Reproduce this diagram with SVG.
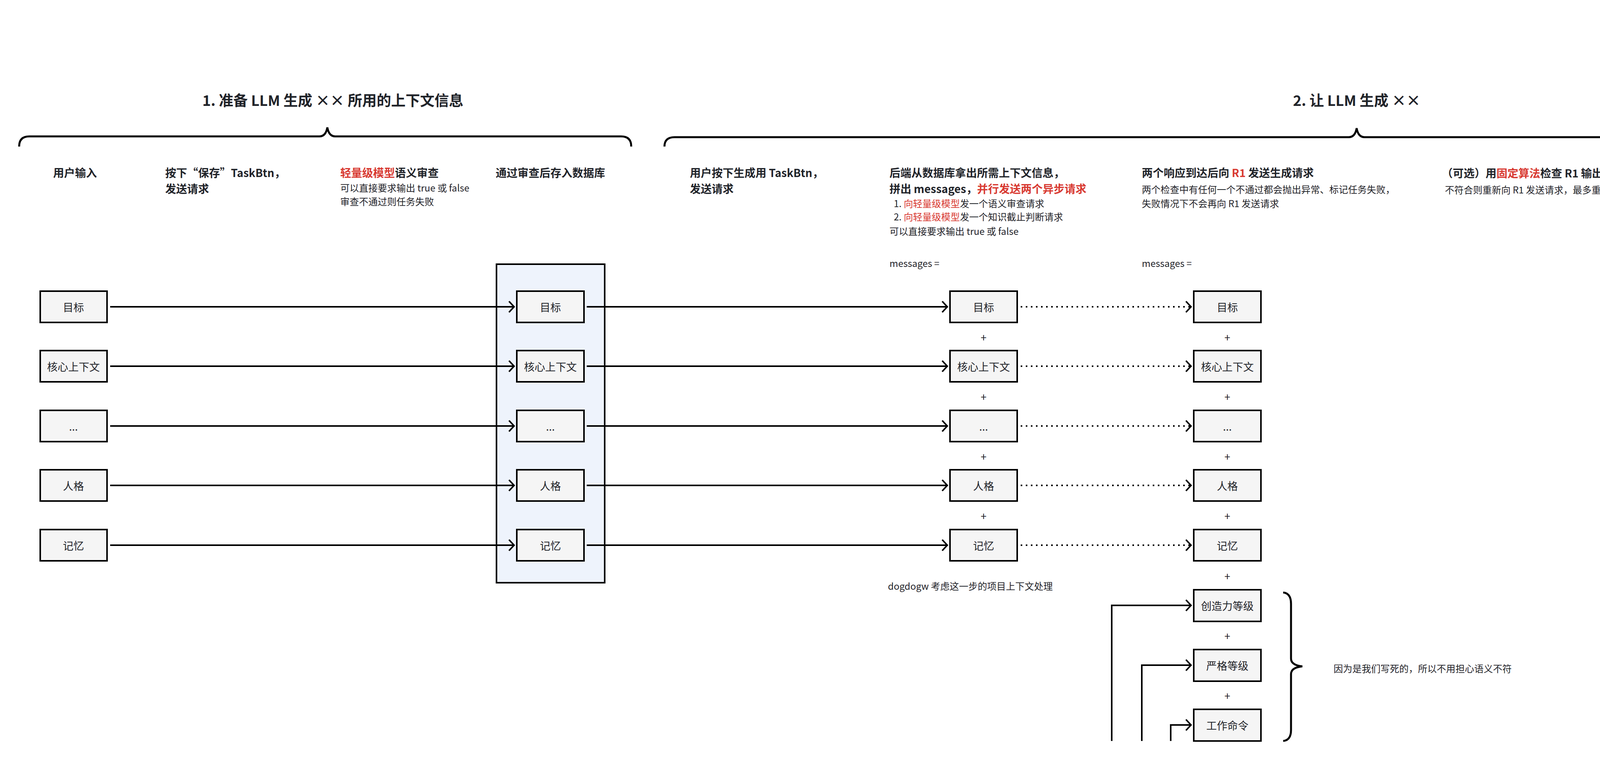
<svg xmlns="http://www.w3.org/2000/svg" width="5268" height="1960" viewBox="0 0 5268 1960">
<style>
text{font-family:"Noto Sans CJK SC","Noto Sans",sans-serif;fill:#1f2329;dominant-baseline:central}
.t{font-size:37px;font-weight:600}
.h{font-size:28px;font-weight:700}
.s{font-size:24px}
.n{font-size:27px;text-anchor:middle}
.r{fill:#d83931}
.box{fill:#f5f5f5;stroke:#000;stroke-width:4}
.ln{fill:none;stroke:#000;stroke-width:4}
.dot{fill:none;stroke:#000;stroke-width:4;stroke-dasharray:4 9}
.br{fill:none;stroke:#000;stroke-width:5}
</style>
<defs>
<marker id="a" markerUnits="userSpaceOnUse" markerWidth="20" markerHeight="34" refX="16" refY="16" orient="auto">
<path d="M3,2 L16,16 L3,30" fill="none" stroke="#000" stroke-width="4"/>
</marker>
</defs>

<g id="titles">
<text class="t" x="518" y="255">1. 准备 LLM 生成 ×× 所用的上下文信息</text>
<text class="t" x="3310" y="255">2. 让 LLM 生成 ××</text>
</g>
<g id="braces">
<path class="br" d="M49,375 Q49,349 75,349 L818,349 Q834,349 838,326 Q842,349 858,349 L1590,349 Q1616,349 1616,375"/>
<path class="br" d="M1701,375 Q1701,351 1727,351 L3453,351 Q3469,351 3473,328 Q3477,351 3493,351 L5193,351 Q5219,351 5219,375"/>
<path class="br" d="M3285,1516 Q3305,1518 3305,1545 L3305,1685 Q3305,1702 3334,1705 Q3305,1708 3305,1725 L3305,1868 Q3305,1894 3285,1896"/>
</g>

<g id="headers">
<text class="h" x="136" y="441">用户输入</text>
<text class="h" x="423" y="441">按下“保存”TaskBtn，</text>
<text class="h" x="423" y="482">发送请求</text>
<text class="h" x="871" y="441"><tspan class="r">轻量级模型</tspan>语义审查</text>
<text class="s" x="871" y="479">可以直接要求输出 true 或 false</text>
<text class="s" x="871" y="514">审查不通过则任务失败</text>
<text class="h" x="1269" y="441">通过审查后存入数据库</text>
<text class="h" x="1766" y="441">用户按下生成用 TaskBtn，</text>
<text class="h" x="1766" y="482">发送请求</text>
<text class="h" x="2277" y="441">后端从数据库拿出所需上下文信息，</text>
<text class="h" x="2277" y="482">拼出 messages，<tspan class="r">并行发送两个异步请求</tspan></text>
<text class="s" x="2288" y="519">1. <tspan class="r">向轻量级模型</tspan>发一个语义审查请求</text>
<text class="s" x="2288" y="553">2. <tspan class="r">向轻量级模型</tspan>发一个知识截止判断请求</text>
<text class="s" x="2277" y="590">可以直接要求输出 true 或 false</text>
<text class="s" x="2277" y="672">messages =</text>
<text class="h" x="2923" y="441">两个响应到达后向 <tspan class="r">R1</tspan> 发送生成请求</text>
<text class="s" x="2923" y="483">两个检查中有任何一个不通过都会抛出异常、标记任务失败，</text>
<text class="s" x="2923" y="519">失败情况下不会再向 R1 发送请求</text>
<text class="s" x="2923" y="672">messages =</text>
<text class="h" x="3691" y="442">（可选）用<tspan class="r">固定算法</tspan>检查 R1 输出的结构是否符合格式要求</text>
<text class="s" x="3699" y="484">不符合则重新向 R1 发送请求，最多重试 k 次</text>
<text class="h" x="4523" y="442">解析输出字符串、持久化到数据库、更新任务状态</text>
<text class="s" x="2273" y="1498">dogdogw 考虑这一步的项目上下文处理</text>
<text class="s" x="3414" y="1709">因为是我们写死的，所以不用担心语义不符</text>
</g>

<g id="db"><rect x="1271" y="676" width="277" height="815" fill="#eef3fc" stroke="#000" stroke-width="4"/></g>

<g id="col1">
<g id="c1-1"><rect class="box" x="103" y="745" width="171" height="80"/><text class="n" x="188" y="785">目标</text></g>
<g id="c1-2"><rect class="box" x="103" y="897" width="171" height="80"/><text class="n" x="188" y="937">核心上下文</text></g>
<g id="c1-3"><rect class="box" x="103" y="1050" width="171" height="80"/><text class="n" x="188" y="1090">...</text></g>
<g id="c1-4"><rect class="box" x="103" y="1202" width="171" height="80"/><text class="n" x="188" y="1242">人格</text></g>
<g id="c1-5"><rect class="box" x="103" y="1355" width="171" height="80"/><text class="n" x="188" y="1395">记忆</text></g>
</g>
<g id="col2">
<g id="c2-1"><rect class="box" x="1323" y="745" width="172" height="80"/><text class="n" x="1409" y="785">目标</text></g>
<g id="c2-2"><rect class="box" x="1323" y="897" width="172" height="80"/><text class="n" x="1409" y="937">核心上下文</text></g>
<g id="c2-3"><rect class="box" x="1323" y="1050" width="172" height="80"/><text class="n" x="1409" y="1090">...</text></g>
<g id="c2-4"><rect class="box" x="1323" y="1202" width="172" height="80"/><text class="n" x="1409" y="1242">人格</text></g>
<g id="c2-5"><rect class="box" x="1323" y="1355" width="172" height="80"/><text class="n" x="1409" y="1395">记忆</text></g>
</g>
<g id="col3">
<g id="c3-1"><rect class="box" x="2432" y="745" width="172" height="80"/><text class="n" x="2518" y="785">目标</text></g>
<g id="c3-2"><rect class="box" x="2432" y="897" width="172" height="80"/><text class="n" x="2518" y="937">核心上下文</text></g>
<g id="c3-3"><rect class="box" x="2432" y="1050" width="172" height="80"/><text class="n" x="2518" y="1090">...</text></g>
<g id="c3-4"><rect class="box" x="2432" y="1202" width="172" height="80"/><text class="n" x="2518" y="1242">人格</text></g>
<g id="c3-5"><rect class="box" x="2432" y="1355" width="172" height="80"/><text class="n" x="2518" y="1395">记忆</text></g>
<text class="n" x="2518" y="862">+</text><text class="n" x="2518" y="1014">+</text><text class="n" x="2518" y="1167">+</text><text class="n" x="2518" y="1319">+</text>
</g>
<g id="col4">
<g id="c4-1"><rect class="box" x="3056" y="745" width="172" height="80"/><text class="n" x="3142" y="785">目标</text></g>
<g id="c4-2"><rect class="box" x="3056" y="897" width="172" height="80"/><text class="n" x="3142" y="937">核心上下文</text></g>
<g id="c4-3"><rect class="box" x="3056" y="1050" width="172" height="80"/><text class="n" x="3142" y="1090">...</text></g>
<g id="c4-4"><rect class="box" x="3056" y="1202" width="172" height="80"/><text class="n" x="3142" y="1242">人格</text></g>
<g id="c4-5"><rect class="box" x="3056" y="1355" width="172" height="80"/><text class="n" x="3142" y="1395">记忆</text></g>
<g id="c4-6"><rect class="box" x="3056" y="1509" width="172" height="81"/><text class="n" x="3142" y="1549">创造力等级</text></g>
<g id="c4-7"><rect class="box" x="3056" y="1662" width="172" height="81"/><text class="n" x="3142" y="1702">严格等级</text></g>
<g id="c4-8"><rect class="box" x="3056" y="1815" width="172" height="81"/><text class="n" x="3142" y="1855">工作命令</text></g>
<text class="n" x="3142" y="862">+</text><text class="n" x="3142" y="1014">+</text><text class="n" x="3142" y="1167">+</text><text class="n" x="3142" y="1319">+</text><text class="n" x="3142" y="1473">+</text><text class="n" x="3142" y="1626">+</text><text class="n" x="3142" y="1779">+</text>
</g>

<g id="connectors">
<path class="ln" marker-end="url(#a)" d="M282,785 H1316"/>
<path class="ln" marker-end="url(#a)" d="M282,937 H1316"/>
<path class="ln" marker-end="url(#a)" d="M282,1090 H1316"/>
<path class="ln" marker-end="url(#a)" d="M282,1242 H1316"/>
<path class="ln" marker-end="url(#a)" d="M282,1395 H1316"/>
<path class="ln" marker-end="url(#a)" d="M1502,785 H2425"/>
<path class="ln" marker-end="url(#a)" d="M1502,937 H2425"/>
<path class="ln" marker-end="url(#a)" d="M1502,1090 H2425"/>
<path class="ln" marker-end="url(#a)" d="M1502,1242 H2425"/>
<path class="ln" marker-end="url(#a)" d="M1502,1395 H2425"/>
<path class="dot" marker-end="url(#a)" d="M2613,785 H3049"/>
<path class="dot" marker-end="url(#a)" d="M2613,937 H3049"/>
<path class="dot" marker-end="url(#a)" d="M2613,1090 H3049"/>
<path class="dot" marker-end="url(#a)" d="M2613,1242 H3049"/>
<path class="dot" marker-end="url(#a)" d="M2613,1395 H3049"/>
<path class="ln" marker-end="url(#a)" d="M2846,1896 V1549 H3049"/>
<path class="ln" marker-end="url(#a)" d="M2923,1896 V1702 H3049"/>
<path class="ln" marker-end="url(#a)" d="M2997,1896 V1855 H3049"/>
</g>
</svg>
